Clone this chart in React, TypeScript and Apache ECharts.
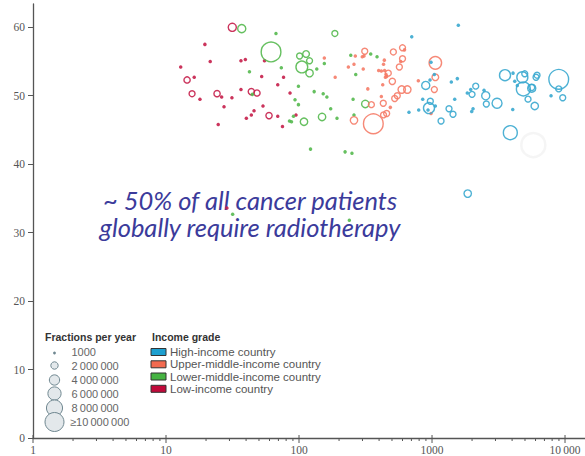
import React, { useEffect, useRef } from "react";
import * as echarts from "echarts";

// ---- data: [x on log axis, optimal radiotherapy utilisation %, fractions per year]
const highIncome: number[][] = [
  [1577, 60.3, 3e4], [704, 58.6, 3e4], [983, 54.9, 3e4], [1041, 53.1, 3e4],
  [1550, 52.5, 3e4], [1397, 52.0, 3e4], [897, 51.5, 2.5e6], [966, 52.3, 3e4],
  [1954, 50.9, 3e4], [2131, 51.4, 1e6], [1999, 50.2, 1e6], [1842, 50.4, 3e4],
  [2460, 50.8, 3e4], [2534, 50.0, 2.5e6], [851, 49.5, 3e4], [971, 49.2, 1e6],
  [949, 48.2, 4.5e6], [1059, 48.5, 3e4], [933, 47.9, 3e4], [794, 47.9, 3e4],
  [671, 47.6, 3e4], [1481, 49.5, 3e4], [1342, 48.1, 1e6], [1438, 47.3, 1e6],
  [2034, 48.1, 3e4], [1988, 47.7, 3e4], [1169, 46.3, 1e6], [2560, 48.8, 1e6],
  [3082, 48.9, 3.8e6], [4045, 48.0, 3e4], [3538, 53.0, 4.5e6], [4065, 53.3, 3e4],
  [4776, 52.7, 4.5e6], [4978, 53.2, 1e6], [6053, 52.7, 1e6], [6159, 53.0, 1e6],
  [4187, 52.1, 3e4], [4379, 51.5, 3e4], [4860, 51.0, 6.5e6], [5618, 51.1, 2.5e6],
  [5618, 51.2, 1e6], [5270, 49.5, 1e6], [5919, 48.5, 2e6], [8968, 52.4, 10.5e6],
  [8968, 51.0, 1e6], [7850, 50.0, 3e4], [9609, 49.7, 1e6], [3879, 44.6, 6.5e6],
  [1855, 35.7, 2e6],
];

const upperMiddle: number[][] = [
  [155, 55.5, 3e4], [187, 52.7, 3e4], [265, 55.8, 3e4], [299, 55.7, 3e4],
  [308, 55.8, 3e4], [312, 56.5, 1e6], [438, 55.2, 3e4], [432, 54.6, 3e4],
  [512, 56.4, 1e6], [600, 57.0, 1e6], [621, 56.7, 3e4], [235, 54.2, 3e4],
  [259, 54.6, 3e4], [304, 53.9, 3e4], [397, 53.7, 3e4], [416, 53.6, 3e4],
  [440, 53.7, 3e4], [451, 53.1, 3e4], [456, 52.8, 3e4], [446, 52.7, 3e4],
  [469, 53.3, 1e6], [568, 54.2, 1e6], [582, 55.0, 3e4], [600, 55.4, 1e6],
  [503, 52.1, 1.2e6], [426, 51.6, 3e4], [592, 50.9, 2e6], [652, 50.9, 2e6],
  [329, 51.0, 3e4], [416, 49.9, 3e4], [548, 50.0, 1e6], [524, 49.6, 1e6],
  [350, 48.7, 1e6], [430, 48.9, 1e6], [486, 48.3, 3e4], [456, 47.4, 1e6],
  [432, 47.2, 1e6], [259, 46.4, 2e6], [362, 45.9, 10.5e6], [1059, 54.8, 5.5e6],
  [1059, 52.7, 1.5e6], [789, 52.2, 3e4], [1041, 50.9, 1e6], [983, 47.4, 3e4],
];

const lowerMiddle: number[][] = [
  [37.1, 59.8, 2.5e6], [67.1, 59.1, 3e4], [61.6, 56.4, 10.5e6], [42.4, 53.5, 3e4],
  [73.6, 54.1, 3e4], [44.6, 50.2, 3e4], [84.8, 46.3, 3e4], [186, 59.1, 1e6],
  [101, 55.8, 1e6], [113, 56.1, 1.5e6], [120, 55.1, 1e6], [105, 54.2, 5e6],
  [120, 53.3, 2e6], [136, 53.9, 3e4], [155, 54.7, 3e4], [99, 51.4, 3e4],
  [130, 50.6, 3e4], [152, 50.3, 3e4], [162, 49.8, 3e4], [93.3, 49.4, 3e4],
  [99, 48.7, 3e4], [173, 48.1, 3e4], [90.9, 47.0, 3e4], [87.8, 46.2, 3e4],
  [109, 46.2, 2e6], [149, 46.9, 2e6], [193, 46.7, 3e4], [245, 55.9, 3e4],
  [346, 56.1, 3e4], [386, 55.7, 3e4], [267, 53.1, 3e4], [255, 49.5, 3e4],
  [315, 48.8, 2e6], [259, 47.2, 3e4], [122, 42.2, 3e4], [222, 41.8, 3e4],
  [250, 41.6, 3e4], [31.7, 32.7, 3e4], [239, 31.8, 3e4],
];

const lowIncome: number[][] = [
  [31.5, 60.0, 2.5e6], [19.6, 57.5, 3e4], [21.5, 55.0, 3e4], [36.6, 55.1, 3e4],
  [39.5, 55.3, 3e4], [55.0, 55.1, 3e4], [12.9, 54.2, 3e4], [14.4, 52.3, 1.2e6],
  [16.3, 52.7, 3e4], [52.4, 52.8, 3e4], [76.5, 52.7, 3e4], [69.2, 51.6, 3e4],
  [36.6, 50.9, 3e4], [15.7, 50.3, 1e6], [24.2, 50.3, 1.2e6], [26.2, 49.8, 3e4],
  [18.0, 49.5, 3e4], [31.3, 49.7, 3e4], [43.8, 50.6, 1.2e6], [48.3, 50.4, 1.2e6],
  [27.3, 48.4, 3e4], [53.6, 48.5, 3e4], [45.9, 47.8, 3e4], [43.8, 47.2, 3e4],
  [59.5, 47.1, 1.2e6], [69.2, 47.0, 3e4], [40.2, 46.7, 3e4], [24.7, 45.8, 3e4],
  [75.1, 45.5, 3e4], [85.6, 50.4, 3e4], [94.9, 47.2, 3e4], [28.7, 33.6, 3e4],
];

const ghostPoints: number[][] = [[5777, 42.8, 12e6]];

const groupNames = ["High-income country", "Upper-middle-income country", "Lower-middle-income country", "Low-income country"];
const groupColors = ["#3aa9cf", "#f57c68", "#55b94f", "#c51e4a"];
const swatchColors = ["#1d9fcf", "#f26a50", "#45b342", "#c1093a"];

const legendFractions = [1000, 2e6, 4e6, 6e6, 8e6, 1e7];
const legendFractionLabels = ["1000", "2\u2009000\u2009000", "4\u2009000\u2009000", "6\u2009000\u2009000", "8\u2009000\u2009000", "\u226510\u2009000\u2009000"];

const xTickValues = [1, 10, 100, 1000, 10000];
const xTickLabels = ["1", "10", "100", "1000", "10\u2009000"];
const xMinorValues = [2, 3, 4, 5, 6, 7, 8, 9, 20, 30, 40, 50, 60, 70, 80, 90, 200, 300, 400, 500, 600, 700, 800, 900, 2000, 3000, 4000, 5000, 6000, 7000, 8000, 9000];
const yTickValues = [0, 10, 20, 30, 40, 50, 60];

const annotationLines = ["~ 50% of all cancer patients", "globally require radiotherapy"];

function sizeOf(v: number): number {
  if (v < 500000) return 3.5;
  return 4.5 + 1.45 * Math.min(v, 1.2e7) / 1e6;
}

function buildSeries(name: string, rows: number[][], color: string) {
  return {
    type: "scatter",
    name,
    data: rows.map((r) => {
      const filled = r[2] < 500000;
      return {
        value: r,
        symbolSize: sizeOf(r[2]),
        itemStyle: {
          color: filled ? color : "rgba(255,255,255,0)",
          borderColor: color,
          borderWidth: filled ? 0 : 1.4,
          opacity: 0.9,
        },
      };
    }),
  };
}

export default function App() {
  const ref = useRef<HTMLDivElement>(null);
  useEffect(() => {
    if (!ref.current) return;
    const chart = echarts.init(ref.current, undefined, { renderer: "svg" });
    const labelFont = "Liberation Serif";
    const legendFont = "Liberation Sans";

    const graphics: any[] = [];
    graphics.push({
      type: "text", x: 45, y: 337,
      style: { text: "Fractions per year", fontSize: 10.5, fontWeight: "bold", fontFamily: legendFont, fill: "#333", verticalAlign: "middle" },
    });
    const legYs = [352, 365.5, 380, 393.5, 408, 422];
    legendFractions.forEach((v, i) => {
      const d = sizeOf(v);
      graphics.push({
        type: "circle",
        shape: { cx: 54.5, cy: legYs[i] + (i === 0 ? 1 : 0), r: i === 0 ? 1.4 : d / 2 },
        style: { fill: i === 0 ? "#6f8790" : "#e3e8eb", stroke: "#6f8790", lineWidth: i === 0 ? 0 : 1 },
      });
      graphics.push({
        type: "text", x: i === 5 ? 70 : 71.5, y: legYs[i],
        style: { text: legendFractionLabels[i], fontSize: 11, fontFamily: legendFont, fill: "#666", verticalAlign: "middle" },
      });
    });
    graphics.push({
      type: "text", x: 152, y: 337,
      style: { text: "Income grade", fontSize: 10.5, fontWeight: "bold", fontFamily: legendFont, fill: "#333", verticalAlign: "middle" },
    });
    const swYs = [352, 364.3, 376.5, 388.8];
    groupNames.forEach((n, i) => {
      graphics.push({
        type: "rect",
        shape: { x: 151, y: swYs[i] - 3.5, width: 15, height: 7 },
        style: { fill: swatchColors[i], stroke: "#333", lineWidth: 1 },
      });
      graphics.push({
        type: "text", x: 170, y: swYs[i],
        style: { text: n, fontSize: 11.5, fontFamily: legendFont, fill: "#555", verticalAlign: "middle" },
      });
    });
    annotationLines.forEach((t, i) => {
      graphics.push({
        type: "text", x: 250, y: i === 0 ? 200 : 227, z: 1,
        style: { text: t, fontSize: 25.5, fontStyle: "italic", fontFamily: "Lato", fill: "#3b3b9b", align: "center", verticalAlign: "middle" },
      });
    });

    chart.setOption({
      animation: false,
      backgroundColor: "#ffffff",
      grid: { left: 33, right: 0, top: 4, bottom: 18, containLabel: false, outerBoundsMode: "none" },
      xAxis: {
        type: "log",
        logBase: 10,
        min: 1,
        max: 14130,
        axisLine: { lineStyle: { color: "#555", width: 1.3 } },
        axisTick: { show: false },
        splitLine: { show: false },
        minorTick: { show: false },
        axisLabel: {
          color: "#555",
          fontFamily: labelFont,
          fontSize: 11.5,
          margin: 6,
          showMaxLabel: false,
          formatter: (v: number) => {
            const i = xTickValues.findIndex((t) => Math.abs(t - v) / t < 1e-6);
            return i >= 0 ? xTickLabels[i] : "";
          },
        },
      },
      yAxis: {
        type: "value",
        min: 0,
        max: 63.4,
        interval: 10,
        axisLine: { show: true, lineStyle: { color: "#555", width: 1.3 } },
        axisTick: { show: true, length: 5, customValues: yTickValues, lineStyle: { color: "#555" } },
        splitLine: { show: false },
        axisLabel: { color: "#555", fontFamily: labelFont, fontSize: 11.5, margin: 8, customValues: yTickValues },
      },
      graphic: graphics,
      series: [
        {
          type: "custom",
          name: "xticks",
          silent: true,
          clip: false,
          z: 5,
          data: [...xTickValues.map((v) => [v, 1]), ...xMinorValues.map((v) => [v, 0])],
          renderItem: (_params: any, api: any) => {
            const v = api.value(0);
            const major = api.value(1) === 1;
            const p = api.coord([v, 0]);
            return {
              type: "line",
              shape: { x1: p[0], y1: p[1] - (major ? 3 : 0), x2: p[0], y2: p[1] + (major ? 5 : 3) },
              style: { stroke: "#555", lineWidth: 1 },
            };
          },
        },
        {
          type: "scatter",
          name: "ghost",
          silent: true,
          data: ghostPoints.map((r) => ({ value: r, symbolSize: 24, itemStyle: { color: "rgba(255,255,255,0)", borderColor: "#f3f3f3", borderWidth: 2.5 } })),
        },
        buildSeries(groupNames[3], lowIncome, groupColors[3]),
        buildSeries(groupNames[2], lowerMiddle, groupColors[2]),
        buildSeries(groupNames[1], upperMiddle, groupColors[1]),
        buildSeries(groupNames[0], highIncome, groupColors[0]),
      ],
    });
    return () => chart.dispose();
  }, []);
  return <div ref={ref} style={{ position: "fixed", left: 0, top: 0, width: 585, height: 456 }} />;
}
